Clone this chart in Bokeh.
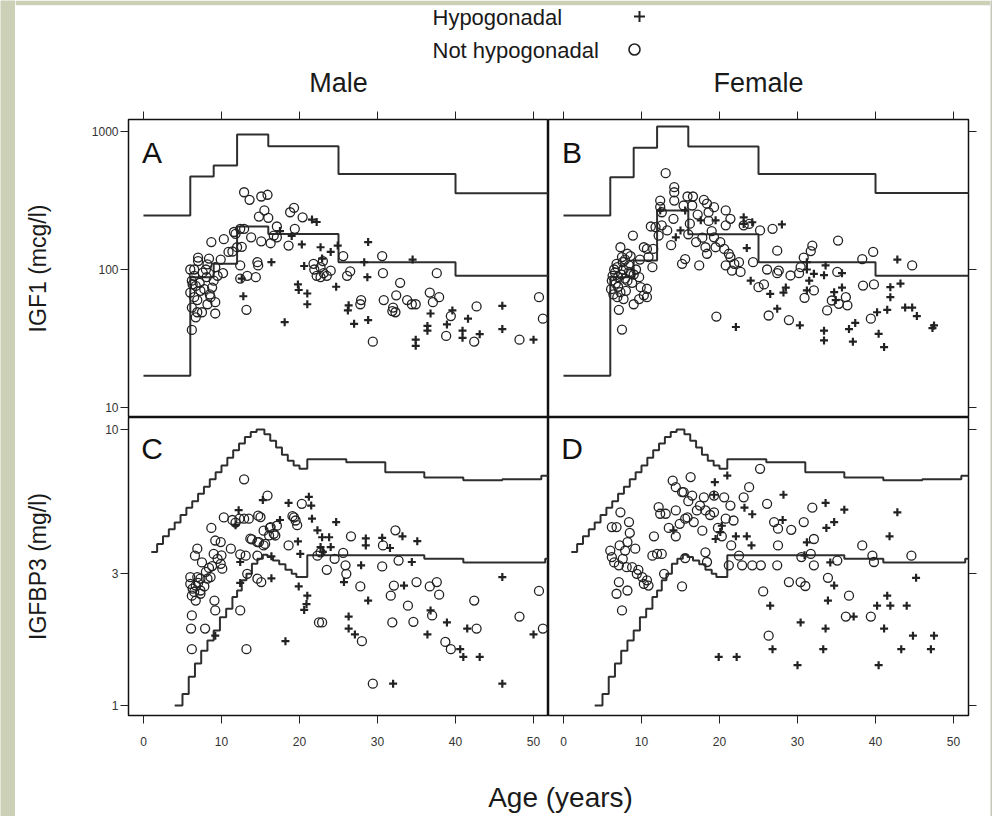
from bokeh.plotting import figure
from bokeh.layouts import row, column
from bokeh.models import LogAxis, LinearAxis, FixedTicker, PrintfTickFormatter, Range1d, Label
from bokeh.embed import file_html
from bokeh.resources import INLINE
from bokeh.core.properties import value

# ---------------- data (age in years, value) ----------------
male_igf1_not = [(12.9, 363), (13.6, 320), (15.1, 338), (15.9, 348), (15.5, 268), (14.8, 242), (16.0, 237),
    (19.3, 280), (20.4, 239), (18.8, 260), (17.1, 205), (19.4, 197), (16.7, 176), (18.6, 149), (16.3, 155),
    (15.1, 160), (11.8, 181), (12.4, 197), (12.9, 197), (13.8, 171), (10.3, 166), (8.7, 158), (12.0, 145),
    (12.6, 146), (11.4, 135), (10.9, 134), (12.4, 107), (14.6, 113), (14.7, 107), (13.3, 90), (14.4, 88),
    (12.4, 86), (7.0, 122), (8.2, 109), (9.2, 104), (9.9, 118), (10.2, 94), (6.0, 100), (6.5, 100), (6.2, 83),
    (6.7, 76), (6.0, 68), (6.5, 63), (7.3, 70), (6.2, 53), (6.9, 49), (6.7, 45), (7.5, 49), (6.2, 36.5),
    (9.2, 48), (9.2, 58), (8.2, 56), (8.6, 63), (8.8, 74), (9.0, 83), (8.1, 88), (13.2, 51), (21.8, 110),
    (22.2, 90), (22.7, 104), (23.1, 94), (23.5, 90), (22.7, 88), (25.6, 125), (26.1, 90), (26.5, 97),
    (27.9, 60), (27.8, 56), (30.6, 125), (30.7, 94), (30.8, 60), (32.9, 80), (32.4, 65), (32.0, 53),
    (31.9, 50), (32.3, 49), (34.4, 56), (34.9, 56), (33.8, 60), (36.7, 68), (37.1, 58), (37.6, 94),
    (37.9, 63), (39.4, 46), (38.8, 33), (42.7, 54), (42.4, 30), (29.4, 30), (48.2, 31), (50.7, 63), (51.2, 44),
    (6.5, 90), (7.2, 80), (7.8, 72), (8.5, 66), (6.9, 60), (7.6, 95), (8.0, 100), (9.5, 90), (6.3, 78),
    (7.0, 115), (8.4, 120), (11.6, 187), (17.1, 171), (24.0, 98), (21.9, 100), (23.0, 115)]

male_igf1_hypo = [(16.4, 113), (18.1, 41.5), (20.3, 152), (20.6, 106), (19.8, 78), (19.9, 71), (21.0, 67),
    (21.0, 56), (22.7, 145), (22.9, 120), (24.0, 134), (24.9, 149), (24.7, 75), (28.8, 158), (28.3, 113),
    (28.7, 88), (26.3, 55), (26.2, 50.5), (27.0, 40.4), (28.8, 43), (34.5, 118), (34.9, 31), (34.9, 28),
    (36.4, 39), (36.4, 36), (36.8, 48), (38.9, 40), (39.6, 50.5), (40.9, 36), (40.9, 32), (41.6, 44),
    (43.1, 34), (46.0, 54.5), (46.0, 37), (50.0, 31), (12.8, 64), (22.2, 221), (21.6, 230), (12.6, 86),
    (17.5, 190), (19.0, 175)]

female_igf1_not = [(13.1, 499), (14.2, 395), (14.2, 363), (14.2, 316), (15.9, 338), (16.6, 338), (15.4, 291),
    (16.5, 291), (18.0, 320), (18.4, 300), (19.3, 283), (18.6, 260), (20.8, 268), (12.4, 316), (12.4, 284),
    (12.6, 260), (14.1, 233), (11.8, 203), (13.3, 192), (12.6, 209), (11.2, 205), (10.3, 145), (10.9, 123),
    (11.4, 104), (8.9, 176), (7.3, 145), (7.5, 123), (8.2, 130), (8.4, 107), (7.6, 113), (6.5, 100),
    (6.9, 104), (7.7, 100), (8.4, 96), (9.0, 92), (9.7, 88), (6.2, 83), (6.7, 79), (7.3, 68.5), (8.2, 83),
    (6.9, 63), (7.7, 61), (9.9, 74.5), (10.7, 72.5), (10.3, 65), (9.7, 61), (9.0, 56), (10.7, 63), (7.1, 51),
    (7.5, 36.7), (11.5, 141), (10.7, 141), (15.2, 110), (15.6, 119), (17.4, 107), (17.0, 158), (18.2, 145),
    (18.4, 130), (19.3, 171), (19.5, 145), (20.1, 158), (20.6, 141), (21.2, 130), (21.4, 123), (21.9, 110),
    (22.5, 113), (22.7, 96), (21.6, 98), (20.8, 107), (20.8, 209), (21.4, 233), (23.1, 209), (23.8, 214),
    (25.2, 192), (26.8, 197), (27.4, 137), (24.3, 113), (26.1, 100), (27.4, 94), (27.6, 98), (29.1, 90.5),
    (30.2, 94), (30.4, 104), (25.0, 74.5), (25.7, 78), (26.3, 46.4), (28.9, 43), (30.9, 62.3), (32.1, 70.5),
    (30.8, 122), (31.9, 149), (31.7, 136), (35.2, 162), (35.1, 96), (33.8, 50.5), (34.4, 59.6), (36.2, 63),
    (36.4, 55), (35.3, 56.4), (38.3, 119), (39.7, 134), (44.7, 107), (38.4, 76.5), (39.8, 78), (39.4, 44),
    (19.6, 45.6), (6.3, 90), (6.6, 95), (7.0, 88), (7.4, 92), (7.9, 86), (8.6, 94), (6.1, 72), (6.4, 66),
    (7.0, 75), (8.0, 70), (8.8, 80), (9.3, 100), (6.8, 110), (7.9, 118), (8.6, 125), (9.8, 118), (12.2, 176),
    (13.8, 150), (16.0, 180), (17.8, 170), (19.0, 190), (18.6, 225), (17.2, 250), (16.2, 215)]

female_igf1_hypo = [(28.0, 212), (23.5, 143), (23.1, 239), (24.0, 83), (26.5, 66.5), (28.2, 68), (28.5, 74),
    (27.4, 52), (30.3, 39.4), (22.1, 38.3), (33.6, 107), (33.4, 91), (35.7, 74), (35.7, 94), (34.7, 68.5),
    (34.9, 60), (33.4, 36), (33.4, 30.6), (36.6, 37), (37.1, 30), (37.4, 41), (40.2, 49), (41.5, 51),
    (40.4, 34.2), (41.1, 27.4), (41.9, 63), (41.9, 74.5), (43.2, 79), (42.8, 118), (43.8, 53), (44.7, 53),
    (45.3, 46), (47.3, 37.6), (47.5, 39.3), (31.2, 100), (31.2, 113), (31.5, 83), (31.2, 70.5), (32.1, 93),
    (23.1, 214), (24.2, 220), (19.5, 227), (17.6, 227), (15.0, 192), (14.4, 171), (12.4, 268), (15.6, 268)]

male_bp3_not = [(12.9, 6.6), (15.9, 5.76), (20.3, 5.38), (10.3, 4.8), (11.8, 4.6), (12.9, 4.75), (13.5, 4.75),
    (15.0, 4.81), (14.7, 4.87), (19.1, 4.85), (19.5, 4.68), (19.7, 4.5), (19.3, 4.8), (8.7, 4.4), (9.2, 3.96),
    (9.9, 3.91), (9.0, 3.54), (9.5, 3.40), (9.9, 3.26), (10.1, 3.13), (11.2, 3.70), (15.4, 4.3), (16.2, 4.4),
    (16.7, 4.19), (17.1, 4.48), (16.1, 4.13), (13.9, 4.0), (14.8, 3.91), (15.4, 3.80), (14.6, 3.49),
    (18.6, 3.80), (13.1, 3.49), (13.3, 3.0), (14.6, 2.88), (15.1, 2.80), (12.4, 2.21), (13.2, 1.60),
    (6.9, 3.70), (6.6, 3.49), (6.0, 2.92), (6.9, 2.92), (7.3, 2.88), (8.2, 2.88), (8.6, 2.92), (6.0, 2.76),
    (6.7, 2.72), (7.3, 2.61), (6.2, 2.50), (6.7, 2.40), (7.3, 2.54), (6.3, 2.65), (7.0, 2.78), (7.8, 2.70),
    (6.5, 2.58), (8.4, 3.15), (9.1, 2.4), (9.2, 2.21), (6.2, 2.12), (6.1, 1.9), (6.2, 1.6), (7.9, 1.9),
    (22.3, 3.49), (22.7, 3.59), (23.5, 3.10), (25.9, 3.22), (25.6, 3.57), (26.6, 4.10), (27.8, 2.70),
    (30.6, 3.19), (30.7, 3.80), (32.3, 4.31), (32.1, 2.72), (31.7, 2.50), (33.9, 2.30), (35.0, 2.80),
    (34.6, 2.01), (36.7, 2.70), (37.6, 2.80), (37.9, 2.52), (37.0, 2.12), (38.7, 1.70), (39.4, 1.60),
    (42.4, 2.40), (42.7, 1.90), (48.2, 2.10), (50.7, 2.60), (51.2, 1.90), (22.5, 2.0), (22.9, 2.0),
    (28.0, 1.71), (29.4, 1.20), (31.9, 2.0), (32.7, 3.35), (12.4, 3.53), (13.7, 4.02), (14.6, 3.91),
    (15.6, 3.85), (16.3, 4.43), (16.9, 4.13), (7.5, 3.3), (8.0, 3.05), (8.8, 3.2), (10.0, 3.5), (11.4, 4.7),
    (12.3, 4.75), (24.5, 3.4), (26.0, 3.0)]

male_bp3_hypo = [(12.2, 5.1), (15.3, 5.55), (18.6, 5.42), (21.2, 5.7), (21.5, 5.3), (21.6, 4.75), (22.3, 4.31),
    (22.9, 4.07), (23.8, 4.07), (24.7, 4.62), (24.0, 3.75), (22.7, 3.75), (20.1, 3.54), (19.8, 3.93),
    (16.4, 3.47), (16.4, 2.89), (19.9, 2.7), (21.0, 2.5), (20.6, 2.22), (20.9, 2.33), (18.2, 1.71), (9.2, 1.79),
    (25.7, 2.8), (27.9, 3.22), (26.3, 2.1), (26.3, 1.9), (27.1, 1.81), (28.8, 2.4), (28.5, 4.03), (28.5, 3.80),
    (30.6, 4.05), (31.6, 3.72), (33.2, 4.1), (34.4, 3.31), (35.1, 3.94), (33.4, 2.72), (36.4, 1.81),
    (36.8, 2.21), (38.9, 2.0), (40.6, 1.6), (41.0, 1.5), (41.5, 1.9), (43.1, 1.5), (46.0, 2.92), (46.0, 1.2),
    (50.0, 1.81), (32.0, 1.2), (11.8, 4.5), (12.4, 3.31), (12.4, 2.78), (23.0, 3.6), (17.5, 4.7)]

female_bp3_not = [(25.2, 7.2), (16.3, 6.72), (14.0, 6.53), (14.4, 6.18), (15.4, 5.93), (16.5, 5.76), (18.0, 5.68),
    (19.3, 5.76), (20.6, 5.68), (21.4, 5.3), (23.1, 5.68), (23.8, 6.18), (26.1, 5.38), (7.3, 5.01), (8.4, 4.62),
    (8.5, 4.22), (8.2, 3.91), (7.2, 3.80), (7.9, 3.64), (6.2, 4.43), (6.8, 4.43), (12.2, 5.23), (12.4, 4.95),
    (14.4, 5.09), (13.1, 4.95), (15.6, 4.75), (16.7, 4.62), (17.1, 5.09), (18.2, 5.09), (19.3, 5.01),
    (20.8, 4.75), (21.8, 4.68), (11.6, 4.10), (14.4, 4.10), (15.6, 3.42), (12.6, 3.54), (12.0, 3.54),
    (11.4, 3.49), (6.0, 3.64), (6.2, 3.45), (7.1, 3.22), (8.1, 3.17), (8.8, 3.17), (9.4, 3.0), (10.1, 2.92),
    (10.7, 2.84), (10.9, 2.72), (10.3, 2.76), (9.2, 3.70), (7.1, 2.80), (6.8, 2.54), (8.2, 2.61), (7.5, 2.21),
    (15.2, 2.70), (12.9, 3.0), (18.2, 3.59), (18.4, 3.31), (21.2, 3.22), (22.9, 3.22), (24.2, 3.22),
    (25.3, 3.22), (27.4, 3.22), (21.5, 3.80), (22.5, 3.49), (27.0, 4.62), (27.5, 4.37), (29.2, 4.33),
    (30.8, 4.62), (31.9, 5.21), (32.1, 4.01), (31.7, 3.54), (30.5, 3.45), (27.5, 3.80), (25.6, 2.59),
    (28.9, 2.80), (30.4, 2.80), (31.0, 2.71), (26.3, 1.79), (32.1, 3.22), (33.9, 2.90), (35.1, 3.35),
    (36.6, 2.50), (36.2, 2.10), (39.4, 2.10), (38.3, 3.80), (39.6, 3.49), (39.8, 3.31), (44.6, 3.49),
    (15.2, 5.93), (15.9, 4.8), (16.0, 5.5), (17.5, 5.3), (18.8, 4.9), (19.8, 4.4), (20.3, 4.1), (17.8, 4.3),
    (13.5, 4.4), (14.9, 4.55), (9.6, 3.1), (6.5, 3.3), (7.6, 3.4)]

female_bp3_hypo = [(21.0, 6.81), (19.4, 6.44), (28.2, 5.80), (23.2, 5.21), (24.2, 4.93), (28.1, 4.70), (33.6, 5.42),
    (36.0, 5.12), (42.8, 5.01), (34.7, 4.62), (33.7, 4.40), (41.8, 4.10), (22.1, 4.10), (23.5, 4.10),
    (24.1, 3.80), (45.2, 2.90), (34.7, 2.72), (33.9, 2.40), (26.5, 2.30), (30.4, 2.0), (33.6, 1.90),
    (41.5, 2.50), (40.2, 2.30), (41.9, 2.30), (44.0, 2.30), (41.1, 1.90), (44.8, 1.79), (47.5, 1.79),
    (43.3, 1.60), (47.1, 1.60), (33.3, 1.60), (26.8, 1.60), (19.9, 1.50), (22.2, 1.50), (30.0, 1.40),
    (40.4, 1.40), (37.2, 2.10), (14.1, 4.31), (19.3, 5.8), (20.3, 4.48), (20.1, 4.25), (19.5, 4.01),
    (31.2, 3.90), (34.2, 3.3), (30.9, 3.5)]

# reference range step lines (start age of each step, value)
male_igf1_upper_age = [0, 6, 9, 12, 16, 25, 40, 52]
male_igf1_upper_val = [246, 472, 567, 950, 783, 493, 357, 357]
male_igf1_lower_age = [0, 6, 9, 12, 16, 25, 40, 52]
male_igf1_lower_val = [17, 88, 110, 205, 181, 113, 90, 90]
female_igf1_upper_age = [0, 6, 9, 12, 16, 25, 40, 52]
female_igf1_upper_val = [246, 467, 762, 1087, 778, 493, 359, 359]
female_igf1_lower_age = [0, 6, 9, 12, 16, 25, 40, 52]
female_igf1_lower_val = [17, 88, 116, 268, 180, 113, 90, 90]

bp3_upper_age = [1.0, 1.75, 2.5, 3.25, 4.0, 4.75, 5.5, 6.25, 7.0, 7.75, 8.5, 9.25, 10.0, 10.75, 11.5, 12.25,
                 13.0, 13.75, 14.5, 15.5, 16.25, 17.0, 17.75, 18.5, 19.25, 20.0, 21.0, 26.0, 31.0, 36.0, 41.0,
                 46.0, 51.0, 52.0]
bp3_upper_val = [3.6, 3.85, 4.1, 4.35, 4.6, 4.9, 5.2, 5.5, 5.85, 6.2, 6.6, 7.0, 7.4, 7.9, 8.4, 8.9,
                 9.4, 9.8, 10.0, 9.6, 9.1, 8.6, 8.1, 7.7, 7.4, 7.2, 7.8, 7.6, 7.0, 6.7, 6.55,
                 6.6, 6.8, 6.8]
bp3_lower_age = [4.0, 5.0, 5.8, 6.6, 7.4, 8.2, 9.0, 9.8, 10.6, 11.4, 12.0, 12.6, 13.2, 13.9, 14.6, 15.3,
                 15.9, 16.6, 17.4, 18.2, 19.0, 19.6, 21.0, 36.0, 41.0, 51.5, 52.0]
bp3_lower_val = [1.0, 1.1, 1.27, 1.42, 1.58, 1.72, 1.87, 2.09, 2.24, 2.47, 2.61, 2.84, 3.0, 3.26, 3.4, 3.52,
                 3.45, 3.35, 3.25, 3.1, 3.0, 2.92, 3.5, 3.4, 3.3, 3.4, 3.4]

age_ticks = [0, 10, 20, 30, 40, 50]
igf1_ticks = [10, 100, 1000]
bp3_ticks = [1, 3, 10]

panel_titles = ["Male", "Female"]
panel_letters = ["A", "B", "C", "D"]
legend_labels = ["Hypogonadal", "Not hypogonadal"]

# ---------------- styling ----------------
FONT = "Liberation Sans"
INK = "#222222"
LINE = "#2e2e2e"
GREEN = "#cbd0b7"
X_RANGE = (-1.92, 51.92)
IGF1_RANGE = (8.46, 1222)
BP3_RANGE = (0.92, 11.05)


def no_grid(p):
    for g in p.grid:
        g.visible = False


def blank(w, h, color="white", border_color=None, top=0):
    p = figure(width=w, height=h, x_range=Range1d(0, w), y_range=Range1d(0, h - top),
               output_backend="svg", toolbar_location=None,
               x_axis_location=None, y_axis_location=None,
               min_border_left=0, min_border_right=0, min_border_bottom=0, min_border_top=top)
    p.outline_line_color = None
    p.background_fill_color = color
    p.border_fill_color = border_color or color
    no_grid(p)
    return p


def tick_axis(ax, ticks, labels, standoff=3):
    ax.ticker = FixedTicker(ticks=ticks, minor_ticks=[])
    ax.axis_line_color = None
    ax.major_tick_out = 8
    ax.major_tick_in = 0
    ax.minor_tick_out = 0
    ax.minor_tick_in = 0
    ax.major_tick_line_color = INK
    ax.major_tick_line_width = 1
    ax.formatter = PrintfTickFormatter(format="%d")
    if labels:
        ax.major_label_text_font = FONT
        ax.major_label_text_font_size = "12px"
        ax.major_label_text_color = "#333333"
        ax.major_label_standoff = standoff
    else:
        ax.major_label_text_font_size = "1px"
        ax.major_label_text_color = None
        ax.major_label_standoff = 0


def panel(w, h, yr, bl, br, bt, bb, letter, letter_y):
    p = figure(width=w, height=h, x_range=Range1d(*X_RANGE), y_range=Range1d(*yr),
               y_axis_type="log", output_backend="svg", toolbar_location=None,
               x_axis_location=None, y_axis_location=None,
               min_border_left=bl, min_border_right=br, min_border_top=bt, min_border_bottom=bb)
    p.outline_line_color = "#111111"
    p.outline_line_width = 1.5
    p.background_fill_color = "white"
    p.border_fill_color = "white"
    no_grid(p)
    p.add_layout(Label(x=1.1, y=letter_y, text=letter, text_font=FONT, text_font_size="30px",
                       text_color="#111111", text_align="center", text_baseline="middle"))
    return p


def draw(p, not_pts, hypo_pts, lines):
    for ages, vals in lines:
        p.step(ages, vals, mode="after", line_color=LINE, line_width=2)
    xs, ys = zip(*not_pts)
    p.scatter(list(xs), list(ys), marker="circle", size=9, fill_color=None,
              line_color=INK, line_width=1.3)
    xs, ys = zip(*hypo_pts)
    p.scatter(list(xs), list(ys), marker="cross", size=8, line_color=INK, line_width=2.2)


pA = panel(533, 313, IGF1_RANGE, 113, 0, 15, 0, panel_letters[0], 705)
pB = panel(442, 313, IGF1_RANGE, 0, 22, 15, 0, panel_letters[1], 705)
pC = panel(533, 343, BP3_RANGE, 113, 0, 0, 45, panel_letters[2], 8.5)
pD = panel(442, 343, BP3_RANGE, 0, 22, 0, 45, panel_letters[3], 8.5)

draw(pA, male_igf1_not, male_igf1_hypo,
     [(male_igf1_upper_age, male_igf1_upper_val), (male_igf1_lower_age, male_igf1_lower_val)])
draw(pB, female_igf1_not, female_igf1_hypo,
     [(female_igf1_upper_age, female_igf1_upper_val), (female_igf1_lower_age, female_igf1_lower_val)])
draw(pC, male_bp3_not, male_bp3_hypo,
     [(bp3_upper_age, bp3_upper_val), (bp3_lower_age, bp3_lower_val)])
draw(pD, female_bp3_not, female_bp3_hypo,
     [(bp3_upper_age, bp3_upper_val), (bp3_lower_age, bp3_lower_val)])

# axes
for p in (pA, pB):
    ax = LinearAxis()
    tick_axis(ax, age_ticks, False)
    p.add_layout(ax, "above")
for p in (pC, pD):
    ax = LinearAxis()
    tick_axis(ax, age_ticks, True, standoff=13)
    p.add_layout(ax, "below")

axA = LogAxis(axis_label="IGF1 (mcg/l)")
tick_axis(axA, igf1_ticks, True, standoff=2)
axA.axis_label_standoff = 38
pA.add_layout(axA, "left")
axC = LogAxis(axis_label="IGFBP3 (mg/l)")
tick_axis(axC, bp3_ticks, True, standoff=2)
axC.axis_label_standoff = 51
pC.add_layout(axC, "left")
for ax in (axA, axC):
    ax.axis_label_text_font = FONT
    ax.axis_label_text_font_size = "23px"
    ax.axis_label_text_font_style = "normal"
    ax.axis_label_text_color = "#1a1a1a"

axB = LogAxis()
tick_axis(axB, igf1_ticks, False)
pB.add_layout(axB, "right")
axD = LogAxis()
tick_axis(axD, bp3_ticks, False)
pD.add_layout(axD, "right")

# header (with the green top band as its top border): legend + panel titles
hdr = blank(975, 104, "white", border_color=GREEN, top=5)
hdr.text(x=[417, 417], y=[87, 54], text=legend_labels, text_font=value(FONT),
         text_font_size="22px", text_color="#1a1a1a", text_align="left", text_baseline="middle")
hdr.scatter(x=[624], y=[88], marker="cross", size=11, line_color=INK, line_width=2)
hdr.scatter(x=[619], y=[55], marker="circle", size=11, fill_color=None, line_color=INK, line_width=1.6)
hdr.text(x=[323, 743], y=[22, 22], text=panel_titles, text_font=value(FONT),
         text_font_size="27px", text_color="#1a1a1a", text_align="center", text_baseline="middle")

ftr = blank(975, 56)
ftr.text(x=[545], y=[19], text=["Age (years)"], text_font=value(FONT), text_font_size="28px",
         text_color="#1a1a1a", text_align="center", text_baseline="middle")

left_strip = blank(15, 816, GREEN)
right_strip = blank(2, 816, "#c4c8b8")

layout = row(left_strip,
             column(hdr, row(pA, pB), row(pC, pD), ftr),
             right_strip)

open("out.html", "w").write(file_html(layout, INLINE))
